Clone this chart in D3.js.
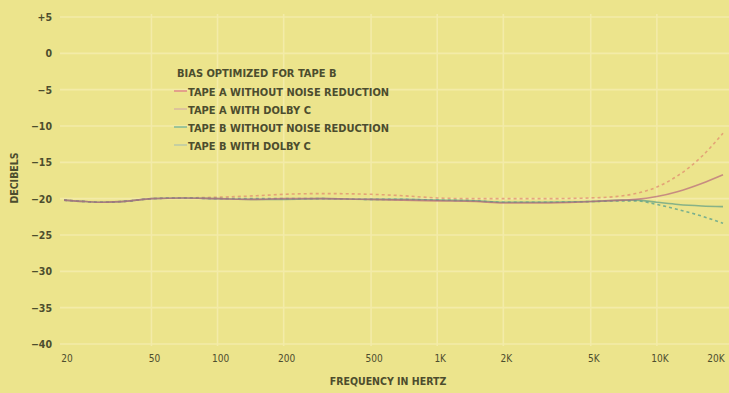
<!DOCTYPE html>
<html>
<head>
<meta charset="utf-8">
<script src="https://cdn.jsdelivr.net/npm/d3@7/dist/d3.min.js"></script>
<style>
  html, body { margin: 0; padding: 0; background: #ece48c; }
  svg { display: block; }
  text { font-family: "Liberation Sans Narrow", "DejaVu Sans Condensed", "Liberation Sans", sans-serif; fill: #4c4d2e; }
</style>
</head>
<body>
<svg id="chart" width="729" height="393"></svg>
<script>
// Frequency response, measured points (Hz)
const freqs = [20, 25, 30, 40, 50, 70, 100, 150, 200, 300, 500, 700, 1000, 1500, 2000, 3000, 5000, 7000, 8000, 10000, 12500, 16000, 20000];

// Level in dB at each frequency
const tapeA_noNR  = [-20.2, -20.4, -20.5, -20.3, -20.0, -19.9, -20.0, -20.1, -20.0, -20.0, -20.1, -20.2, -20.3, -20.4, -20.6, -20.6, -20.4, -20.2, -20.1, -19.7, -19.0, -17.9, -16.7];
const tapeA_dolby = [-20.2, -20.4, -20.5, -20.3, -20.0, -19.9, -19.8, -19.6, -19.4, -19.3, -19.4, -19.6, -19.9, -20.0, -20.0, -20.0, -19.9, -19.6, -19.3, -18.4, -16.8, -14.2, -11.0];
const tapeB_noNR  = [-20.2, -20.4, -20.5, -20.3, -20.0, -19.9, -20.0, -20.1, -20.1, -20.0, -20.1, -20.1, -20.2, -20.3, -20.5, -20.5, -20.4, -20.2, -20.2, -20.5, -20.8, -21.0, -21.1];
const tapeB_dolby = [-20.2, -20.4, -20.5, -20.3, -20.0, -19.9, -20.0, -20.0, -20.0, -20.0, -20.1, -20.1, -20.2, -20.3, -20.5, -20.5, -20.4, -20.3, -20.3, -20.8, -21.5, -22.4, -23.4];

// Axis ticks
const xTicks = [20, 50, 100, 200, 500, 1000, 2000, 5000, 10000, 20000];
const xTickLabels = ["20", "50", "100", "200", "500", "1K", "2K", "5K", "10K", "20K"];
const yTicks = [5, 0, -5, -10, -15, -20, -25, -30, -35, -40];
const yTickLabels = ["+5", "0", "\u22125", "\u221210", "\u221215", "\u221220", "\u221225", "\u221230", "\u221235", "\u221240"];

const legendTitle = "BIAS OPTIMIZED FOR TAPE B";
const seriesNames = ["TAPE A WITHOUT NOISE REDUCTION", "TAPE A WITH DOLBY C", "TAPE B WITHOUT NOISE REDUCTION", "TAPE B WITH DOLBY C"];
const keyColors = ["#e08a88", "#d8b8a0", "#7fb898", "#b8c8a8"];

const series = [
  { values: tapeA_dolby, color: "#e0876e", dash: "3,3" },
  { values: tapeB_dolby, color: "#4a9a8e", dash: "3,3" },
  { values: tapeB_noNR,  color: "#5c9c84", dash: null },
  { values: tapeA_noNR,  color: "#b8667c", dash: null }
];

const svg = d3.select("#chart");

const x = d3.scaleLog().domain([20, 20000]).range([64, 723]);
const y = d3.scaleLinear().domain([-40, 5]).range([344, 17]);

// Pale grid lines
const grid = svg.append("g").attr("stroke", "#f3eba8").attr("stroke-width", 1.6);
grid.selectAll("line.h").data(yTicks).join("line")
  .attr("x1", 60).attr("x2", 729)
  .attr("y1", d => y(d)).attr("y2", d => y(d));
grid.selectAll("line.v").data(xTicks.slice(1, -1)).join("line")
  .attr("x1", d => x(d)).attr("x2", d => x(d))
  .attr("y1", 14).attr("y2", 346);

// Y tick labels
svg.append("g").selectAll("text").data(yTicks).join("text")
  .attr("x", 52).attr("y", d => y(d) + 4)
  .attr("text-anchor", "end")
  .attr("font-size", 10.5).attr("font-weight", "bold")
  .text((d, i) => yTickLabels[i]);

// X tick labels
svg.append("g").selectAll("text").data(xTicks).join("text")
  .attr("x", d => Math.min(x(d) + 3, 716))
  .attr("y", 362)
  .attr("text-anchor", "middle")
  .attr("font-size", 10)
  .text((d, i) => xTickLabels[i]);

// Axis titles
svg.append("text")
  .attr("transform", "translate(18,178) rotate(-90)")
  .attr("text-anchor", "middle")
  .attr("font-size", 10.5).attr("font-weight", "bold")
  .text("DECIBELS");
svg.append("text")
  .attr("x", 388).attr("y", 385)
  .attr("text-anchor", "middle")
  .attr("font-size", 10.5).attr("font-weight", "bold")
  .text("FREQUENCY IN HERTZ");

// Response curves
const line = d3.line()
  .x((d, i) => x(freqs[i]))
  .y(d => y(d))
  .curve(d3.curveMonotoneX);

svg.append("g").selectAll("path").data(series).join("path")
  .attr("d", d => line(d.values))
  .attr("fill", "none")
  .attr("stroke", d => d.color)
  .attr("stroke-width", 1.6)
  .attr("stroke-opacity", 0.7)
  .attr("stroke-dasharray", d => d.dash);

// Legend
const lg = svg.append("g").attr("transform", "translate(177,0)");
lg.append("text").attr("x", 0).attr("y", 77)
  .attr("font-size", 11).attr("font-weight", "bold")
  .text(legendTitle);
seriesNames.forEach((name, i) => {
  const yy = 91 + i * 18;
  lg.append("line")
    .attr("x1", -3).attr("x2", 10)
    .attr("y1", yy).attr("y2", yy)
    .attr("stroke", keyColors[i]).attr("stroke-width", 1.5);
  lg.append("text").attr("x", 11).attr("y", yy + 4.5)
    .attr("font-size", 11).attr("font-weight", "bold")
    .text(name);
});
</script>
</body>
</html>
